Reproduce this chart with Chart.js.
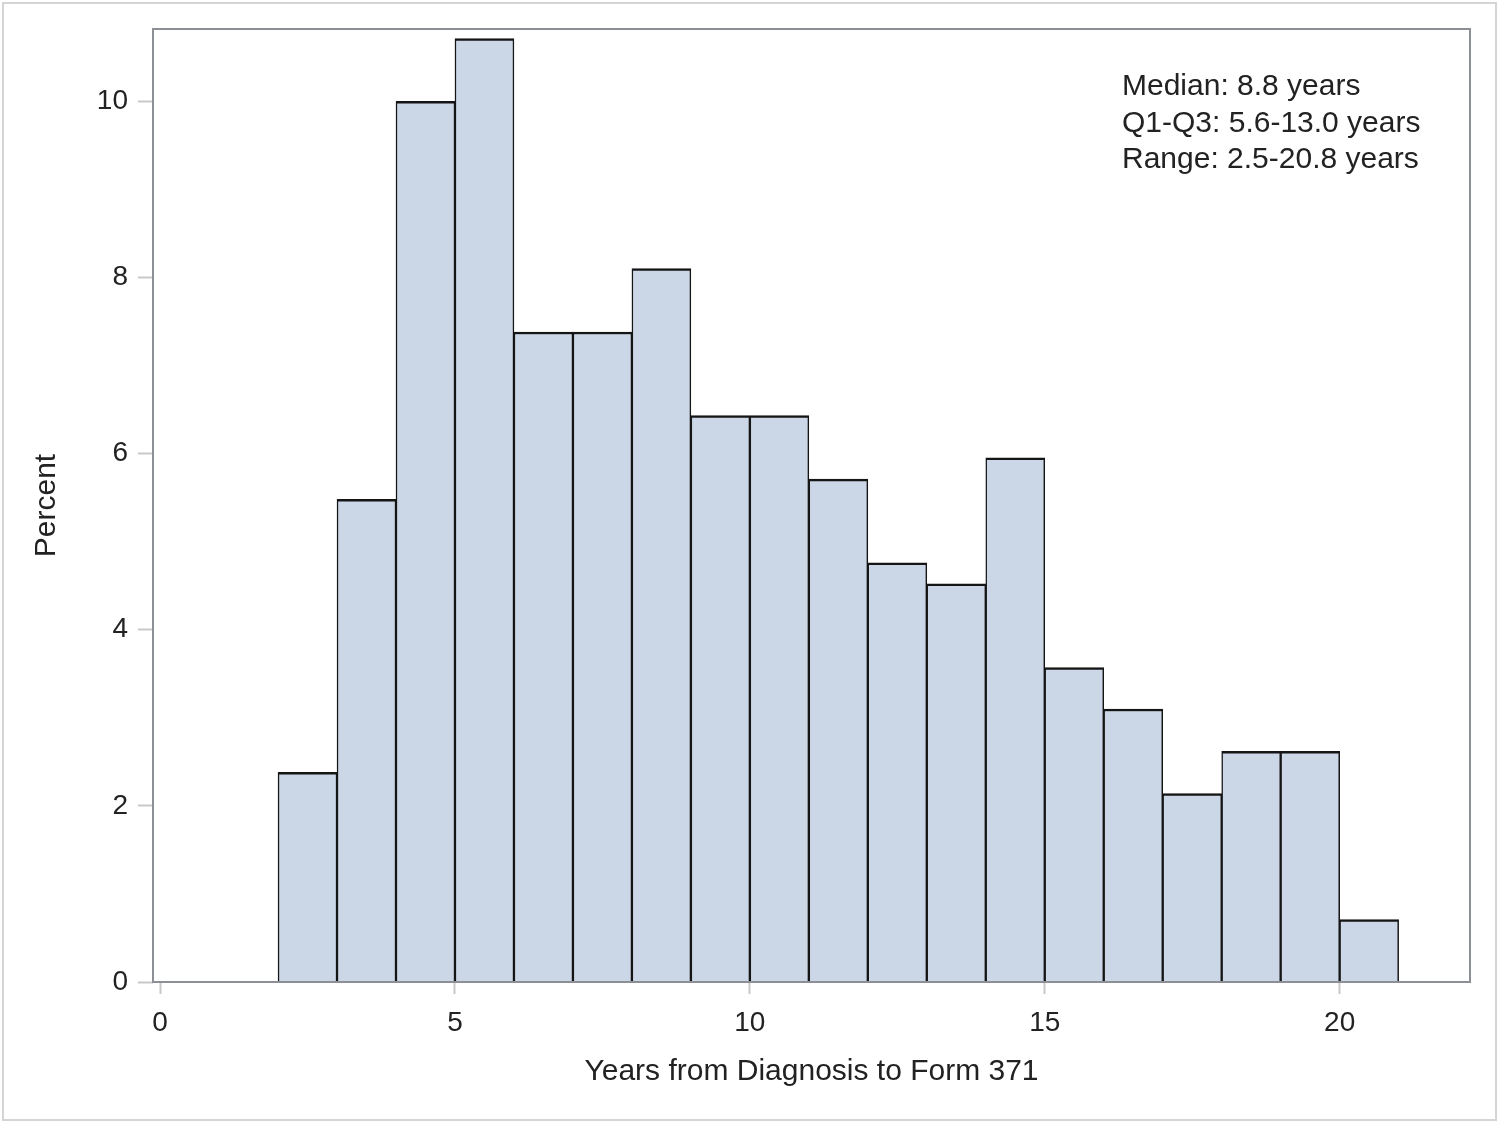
<!DOCTYPE html>
<html>
<head>
<meta charset="utf-8">
<script src="https://cdn.jsdelivr.net/npm/chart.js@4/dist/chart.umd.min.js"></script>
<style>
  html, body { margin: 0; padding: 0; background: #fff; }
  #wrap { width: 1499px; height: 1123px; }
</style>
</head>
<body>
<div id="wrap"><canvas id="hist" width="1499" height="1123"></canvas></div>
<script>
// bin centres (years) and percent of patients per 1-year bin
const binCenters = [2.5, 3.5, 4.5, 5.5, 6.5, 7.5, 8.5, 9.5, 10.5, 11.5, 12.5, 13.5, 14.5, 15.5, 16.5, 17.5, 18.5, 19.5, 20.5];
const percents = [2.38, 5.48, 10.0, 10.71, 7.38, 7.38, 8.10, 6.43, 6.43, 5.71, 4.76, 4.52, 5.95, 3.57, 3.10, 2.14, 2.62, 2.62, 0.71];
const statLines = ["Median: 8.8 years", "Q1-Q3: 5.6-13.0 years", "Range: 2.5-20.8 years"];

const FONT = "'Liberation Sans', Arial, sans-serif";
const TEXT = "#222";

// plot frame + outer border + stats text
const framePlugin = {
  id: "frame",
  afterDatasetsDraw(chart) {
    const { ctx, chartArea: a } = chart;
    ctx.save();
    ctx.strokeStyle = "#8c9096";
    ctx.lineWidth = 2;
    ctx.strokeRect(a.left, a.top, a.right - a.left, a.bottom - a.top);
    ctx.strokeStyle = "#d4d4d4";
    ctx.lineWidth = 2;
    ctx.strokeRect(3, 3, chart.width - 6, chart.height - 6);
    ctx.fillStyle = TEXT;
    ctx.font = "30px " + FONT;
    ctx.textAlign = "left";
    ctx.textBaseline = "alphabetic";
    statLines.forEach((t, i) => ctx.fillText(t, 1122, 95 + i * 36.5));
    ctx.restore();
  }
};

new Chart(document.getElementById("hist").getContext("2d"), {
  type: "bar",
  data: {
    datasets: [{
      data: binCenters.map((x, i) => ({ x, y: percents[i] })),
      backgroundColor: "#cbd6e6",
      borderColor: "#151515",
      borderWidth: { top: 2.5, left: 1.5, right: 1.5, bottom: 0 },
      borderSkipped: false,
      barPercentage: 1,
      categoryPercentage: 1
    }]
  },
  options: {
    responsive: false,
    animation: false,
    layout: { padding: { left: 20, top: 29, right: 29, bottom: 20 } },
    plugins: { legend: { display: false }, tooltip: { enabled: false } },
    scales: {
      x: {
        type: "linear",
        offset: false,
        min: -0.12,
        max: 22.21,
        afterFit: s => { s.height = 121; },
        border: { display: false },
        grid: { offset: false, drawOnChartArea: false, tickLength: 12, tickColor: "#c8c8c8", tickWidth: 2 },
        ticks: { stepSize: 5, includeBounds: false, color: TEXT, padding: 12, maxRotation: 0, font: { family: FONT, size: 28 } },
        title: { display: true, text: "Years from Diagnosis to Form 371", color: TEXT, padding: 13, font: { family: FONT, size: 30 } }
      },
      y: {
        min: 0,
        max: 10.82,
        afterFit: s => { s.width = 133; },
        border: { display: false },
        grid: { drawOnChartArea: false, tickLength: 15, tickColor: "#c8c8c8", tickWidth: 2 },
        ticks: { stepSize: 2, includeBounds: false, color: TEXT, padding: 10, font: { family: FONT, size: 28 } },
        title: { display: true, text: "Percent", color: TEXT, padding: 9, font: { family: FONT, size: 30 } }
      }
    }
  },
  plugins: [framePlugin]
});
</script>
</body>
</html>
